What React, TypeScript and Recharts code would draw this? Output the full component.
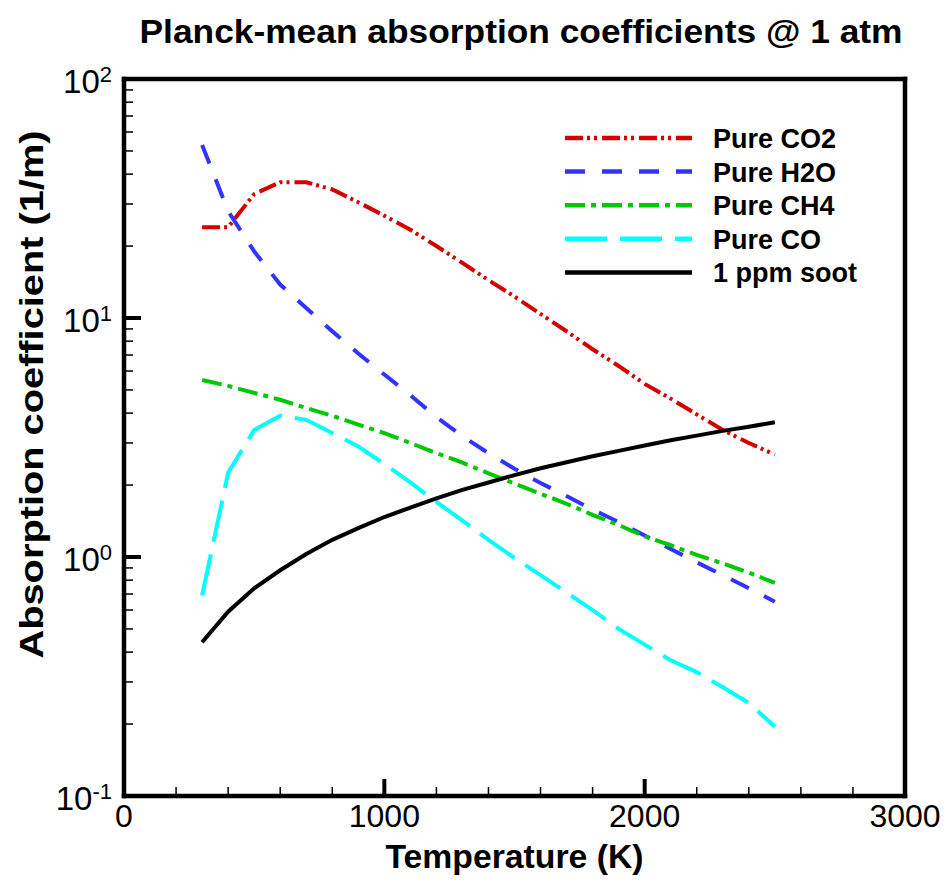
import React from 'react'
import { LineChart, Line, XAxis, YAxis, Legend, Label } from 'recharts'

// temperature grid (K) and Planck-mean absorption coefficients (1/m)
const temperature = [300, 400, 500, 600, 700, 800, 900, 1000, 1100, 1200, 1300, 1400, 1500, 1600, 1700, 1800, 1900, 2000, 2100, 2200, 2300, 2400, 2500]
const co2 = [24, 24, 33, 37, 37, 34.5, 30.5, 26.8, 23.4, 20.0, 17.0, 14.4, 12.3, 10.4, 8.8, 7.4, 6.3, 5.3, 4.6, 3.95, 3.4, 3.0, 2.68]
const h2o = [53, 28, 19, 13.8, 11.0, 8.8, 7.1, 5.8, 4.75, 3.85, 3.2, 2.72, 2.34, 2.04, 1.8, 1.58, 1.4, 1.23, 1.08, 0.95, 0.84, 0.74, 0.65]
const ch4 = [5.5, 5.2, 4.86, 4.55, 4.2, 3.9, 3.58, 3.3, 3.0, 2.72, 2.48, 2.24, 2.03, 1.84, 1.67, 1.5, 1.36, 1.22, 1.12, 1.02, 0.94, 0.86, 0.78]
const co = [0.69, 2.25, 3.4, 3.9, 3.75, 3.3, 2.9, 2.45, 2.05, 1.7, 1.42, 1.18, 0.99, 0.84, 0.71, 0.6, 0.5, 0.43, 0.37, 0.33, 0.285, 0.245, 0.195]
const soot = [0.44, 0.59, 0.74, 0.88, 1.03, 1.18, 1.32, 1.47, 1.61, 1.76, 1.91, 2.05, 2.2, 2.35, 2.49, 2.64, 2.78, 2.93, 3.08, 3.22, 3.37, 3.51, 3.66]

const xTicks = [0, 200, 400, 600, 800, 1000, 1200, 1400, 1600, 1800, 2000, 2200, 2400, 2600, 2800, 3000]
const yTicks = [0.1, 0.2, 0.3, 0.4, 0.5, 0.6, 0.7, 0.8, 0.9, 1, 2, 3, 4, 5, 6, 7, 8, 9, 10, 20, 30, 40, 50, 60, 70, 80, 90, 100]

const series = [
  { key: 'co2', name: 'Pure CO2', color: '#d40000', dash: '18 4 3 4 3 5' },
  { key: 'h2o', name: 'Pure H2O', color: '#3333ff', dash: '20 17' },
  { key: 'ch4', name: 'Pure CH4', color: '#00c800', dash: '20 6 5 6' },
  { key: 'co', name: 'Pure CO', color: '#00ffff', dash: '42 13' },
  { key: 'soot', name: '1 ppm soot', color: '#000000', dash: undefined },
]

const data = temperature.map((T, i) => ({ T, co2: co2[i], h2o: h2o[i], ch4: ch4[i], co: co[i], soot: soot[i] }))

const FONT = '"Liberation Sans", Arial, Helvetica, sans-serif'

const XTick = (props: any) => {
  const { x, y, payload } = props
  const major = payload.value % 1000 === 0
  return (
    <g>
      <line x1={x} x2={x} y1={y} y2={y - (major ? 17 : 9)} stroke="#000" strokeWidth={major ? 4 : 1.5} />
      {major && (
        <text x={x} y={y + 31} textAnchor="middle" fontSize={32} fontFamily={FONT} fill="#000">
          {payload.value}
        </text>
      )}
    </g>
  )
}

const YTick = (props: any) => {
  const { x, y, payload } = props
  const lg = Math.log10(payload.value)
  const e = Math.round(lg)
  const major = Math.abs(lg - e) < 1e-6
  return (
    <g>
      <line x1={x} x2={x + (major ? 17 : 9)} y1={y} y2={y} stroke="#000" strokeWidth={major ? 4 : 1.5} />
      {major && (
        <text x={x - 12} y={y + 14} textAnchor="end" fontSize={33} fontFamily={FONT} fill="#000">
          10<tspan dy={-11} fontSize={22}>{e}</tspan>
        </text>
      )}
    </g>
  )
}

const renderLegend = () => (
  <svg width={340} height={175} style={{ display: 'block' }}>
    {series.map((s, i) => {
      const cy = 18 + i * 33.6
      return (
        <g key={s.key}>
          <line x1={5} x2={132} y1={cy} y2={cy} stroke={s.color} strokeWidth={4.5} strokeDasharray={s.dash} />
          <text x={153} y={cy + 10} fontSize={27} fontWeight="bold" fontFamily={FONT} fill="#000">
            {s.name}
          </text>
        </g>
      )
    })}
  </svg>
)

export default function App() {
  const frame = { stroke: '#000', strokeWidth: 4.5, strokeLinecap: 'square' as const }
  return (
    <div style={{ position: 'absolute', left: 0, top: 0, width: 950, height: 882, background: '#fff' }}>
      <svg width={950} height={60} style={{ position: 'absolute', left: 0, top: 0 }}>
        <text x={521} y={43} textAnchor="middle" fontSize={34} fontWeight="bold" fontFamily={FONT} textLength={763} lengthAdjust="spacingAndGlyphs">
          Planck-mean absorption coefficients @ 1 atm
        </text>
      </svg>
      <LineChart width={950} height={882} data={data} margin={{ top: 78, right: 44, bottom: 85, left: 123 }}>
        <XAxis dataKey="T" type="number" domain={[0, 3000]} ticks={xTicks} interval={0} tick={<XTick />} tickLine={false} tickSize={0} tickMargin={0} height={1} axisLine={frame} allowDataOverflow>
          <Label
            content={(p: any) => {
              const vb = p.viewBox
              return (
                <text x={vb.x + vb.width / 2} y={vb.y + 72} textAnchor="middle" fontSize={33} fontWeight="bold" fontFamily={FONT} textLength={258} lengthAdjust="spacingAndGlyphs">
                  Temperature (K)
                </text>
              )
            }}
          />
        </XAxis>
        <XAxis xAxisId="top" orientation="top" dataKey="T" type="number" domain={[0, 3000]} tick={false} tickLine={false} height={1} axisLine={frame} />
        <YAxis scale="log" type="number" domain={[0.1, 100]} ticks={yTicks} interval={0} tick={<YTick />} tickLine={false} tickSize={0} tickMargin={0} width={1} axisLine={frame} allowDataOverflow>
          <Label
            content={(p: any) => {
              const vb = p.viewBox
              const cx = vb.x - 80
              const cy = vb.y + vb.height / 2 - 43
              return (
                <text x={cx} y={cy} transform={`rotate(-90, ${cx}, ${cy})`} textAnchor="middle" fontSize={33} fontWeight="bold" fontFamily={FONT} textLength={528} lengthAdjust="spacingAndGlyphs">
                  Absorption coefficient (1/m)
                </text>
              )
            }}
          />
        </YAxis>
        <YAxis yAxisId="right" orientation="right" scale="log" type="number" domain={[0.1, 100]} tick={false} tickLine={false} width={1} axisLine={frame} />
        <Legend layout="vertical" align="center" verticalAlign="middle" content={renderLegend} wrapperStyle={{ left: 560, top: 120, width: 340 }} />
        {series.map((s) => (
          <Line
            key={s.key}
            type="linear"
            dataKey={s.key}
            name={s.name}
            stroke={s.color}
            strokeWidth={4}
            strokeDasharray={s.dash}
            dot={false}
            activeDot={false}
            isAnimationActive={false}
          />
        ))}
      </LineChart>
    </div>
  )
}
